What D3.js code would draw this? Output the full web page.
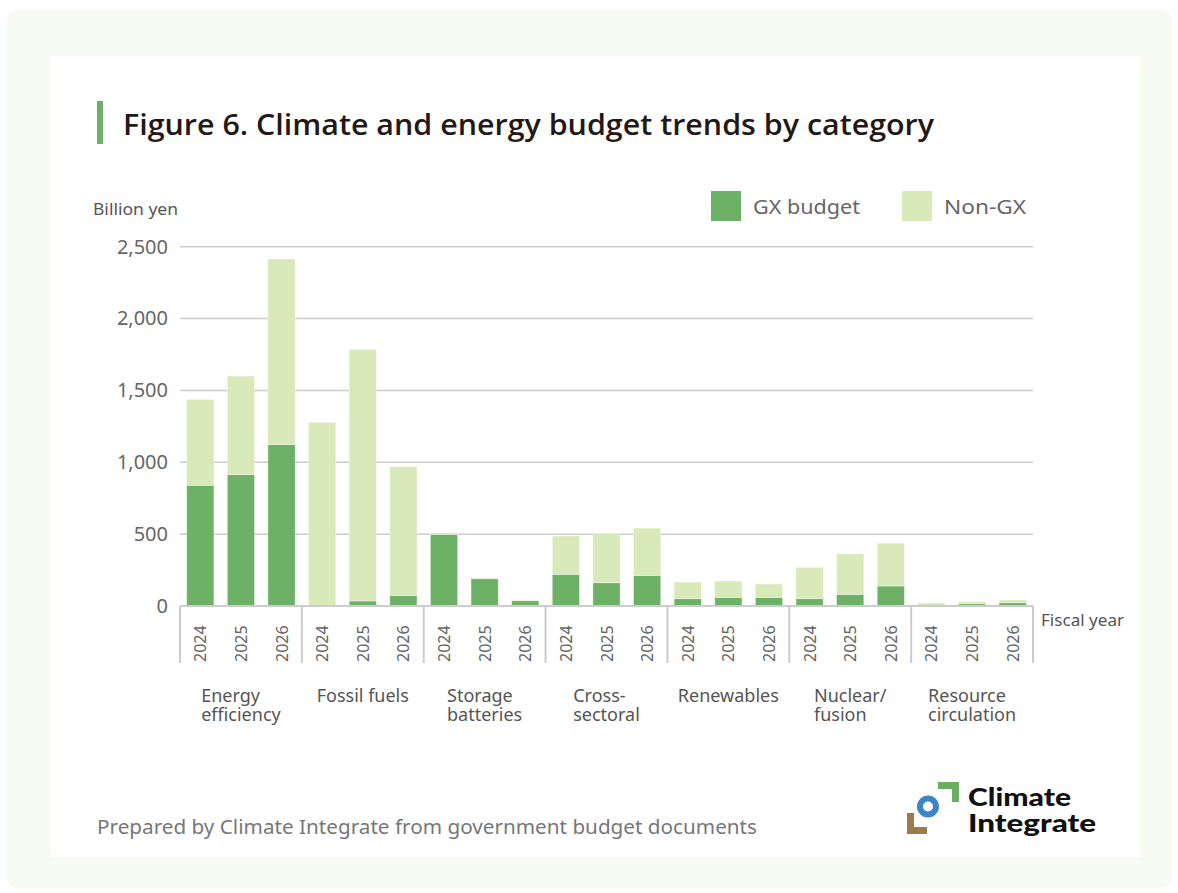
<!DOCTYPE html>
<html>
<head>
<meta charset="utf-8">
<script src="https://cdn.jsdelivr.net/npm/d3@7"></script>
<style>
  html, body { margin: 0; padding: 0; background: #fff; }
  svg { display: block; }
</style>
</head>
<body>
<svg id="chart" width="1178" height="893"></svg>
<script>
// Budget categories and fiscal years
const categories = ["Energy efficiency", "Fossil fuels", "Storage batteries", "Cross-sectoral",
                    "Renewables", "Nuclear/fusion", "Resource circulation"];
const categoryLines = [["Energy", "efficiency"], ["Fossil fuels"], ["Storage", "batteries"],
                       ["Cross-", "sectoral"], ["Renewables"], ["Nuclear/", "fusion"], ["Resource", "circulation"]];
const years = ["2024", "2025", "2026"];

// Billion yen, one row per category, one value per fiscal year
const gxBudget = [
  [840, 914, 1123],
  [0, 35, 74],
  [498, 190, 37],
  [220, 162, 213],
  [51, 60, 60],
  [51, 81, 139],
  [2, 16, 23]
];
const nonGxBudget = [
  [598, 686, 1291],
  [1278, 1750, 896],
  [12, 7, 6],
  [268, 343, 329],
  [116, 114, 93],
  [218, 282, 298],
  [19, 14, 19]
];
const yTicks = [0, 500, 1000, 1500, 2000, 2500];
const seriesNames = ["GX budget", "Non-GX"];
const seriesColors = ["#6db166", "#d8e9ba"];

const svg = d3.select("#chart");
const FONT = "'Noto Sans', 'Open Sans', sans-serif";

// Panel backgrounds
svg.append("rect").attr("x", 7).attr("y", 10).attr("width", 1165).attr("height", 878)
  .attr("rx", 10).attr("fill", "#f8fbf4");
svg.append("rect").attr("x", 51).attr("y", 56).attr("width", 1089).attr("height", 801)
  .attr("fill", "#ffffff");

// Title
svg.append("rect").attr("x", 97).attr("y", 101).attr("width", 6).attr("height", 43).attr("fill", "#6db166");
svg.append("text").attr("x", 123).attr("y", 135)
  .attr("font-family", "'Open Sans', 'Noto Sans', sans-serif").attr("font-weight", 600).attr("font-size", 28)
  .attr("fill", "#231815").attr("textLength", 811).attr("lengthAdjust", "spacingAndGlyphs")
  .text("Figure 6. Climate and energy budget trends by category");

// Scales
const plot = { left: 180, right: 1033, top: 246.7, bottom: 606 };
const y = d3.scaleLinear().domain([0, 2500]).range([plot.bottom, plot.top]);
const xGroup = d3.scaleBand().domain(categories).range([plot.left, plot.right]).padding(0);
const xYear = d3.scaleBand().domain(years).range([0, xGroup.bandwidth()])
  .paddingInner(0.33).paddingOuter(0.165);

// Gridlines
svg.append("g").selectAll("line").data(yTicks.filter(d => d > 0)).join("line")
  .attr("x1", plot.left).attr("x2", plot.right)
  .attr("y1", d => y(d)).attr("y2", d => y(d))
  .attr("stroke", "#cccccc").attr("stroke-width", 1.5);

// Y axis labels
const yAxis = svg.append("g").attr("transform", `translate(${plot.left},0)`)
  .call(d3.axisLeft(y).tickValues(yTicks).tickFormat(d3.format(",")).tickSize(0).tickPadding(12));
yAxis.select(".domain").remove();
yAxis.selectAll("text").attr("font-family", FONT).attr("font-size", 20).attr("fill", "#666");

svg.append("text").attr("x", 93).attr("y", 215)
  .attr("font-family", FONT).attr("font-size", 17).attr("fill", "#555")
  .attr("textLength", 85).attr("lengthAdjust", "spacingAndGlyphs").text("Billion yen");

// Stacked bars
const rows = [];
categories.forEach((c, i) => {
  years.forEach((yr, j) => {
    rows.push({ cat: c, year: yr, gx: gxBudget[i][j], non: nonGxBudget[i][j] });
  });
});
const stack = d3.stack().keys(["gx", "non"])(rows);
svg.append("g").selectAll("g").data(stack).join("g")
  .attr("fill", (d, i) => seriesColors[i])
  .selectAll("rect").data(d => d).join("rect")
  .attr("x", d => xGroup(d.data.cat) + xYear(d.data.year))
  .attr("width", xYear.bandwidth())
  .attr("y", d => y(d[1]))
  .attr("height", d => Math.max(0, y(d[0]) - y(d[1])))
  .attr("stroke", "rgba(255,255,255,0.45)").attr("stroke-width", 0.8);

// X axis line and group separators
svg.append("line").attr("x1", plot.left).attr("x2", plot.right)
  .attr("y1", plot.bottom).attr("y2", plot.bottom)
  .attr("stroke", "#cccccc").attr("stroke-width", 2);
const bounds = categories.map(c => xGroup(c)).concat([plot.right]);
svg.append("g").selectAll("line").data(bounds).join("line")
  .attr("x1", d => d).attr("x2", d => d)
  .attr("y1", plot.bottom).attr("y2", 663)
  .attr("stroke", "#cccccc").attr("stroke-width", 2);

// Year labels (rotated)
svg.append("g").selectAll("text").data(rows).join("text")
  .attr("transform", d => {
    const cx = xGroup(d.cat) + xYear(d.year) + xYear.bandwidth() / 2;
    return `translate(${cx + 6},${662}) rotate(-90)`;
  })
  .attr("font-family", FONT).attr("font-size", 16).attr("fill", "#666")
  .text(d => d.year);

// Category labels: each block is centred in its group, lines left-aligned within it
const catG = svg.append("g").selectAll("text").data(categories).join("text")
  .attr("y", 702)
  .attr("font-family", FONT).attr("font-size", 18).attr("fill", "#555");
catG.each(function(d, i) {
  const t = d3.select(this);
  const spans = categoryLines[i].map((line, k) =>
    t.append("tspan").attr("dy", k === 0 ? 0 : 19).text(line));
  const w = d3.max(spans, s => s.node().getComputedTextLength());
  const x0 = xGroup(d) + xGroup.bandwidth() / 2 - w / 2;
  spans.forEach(s => s.attr("x", x0));
});

svg.append("text").attr("x", 1041).attr("y", 626)
  .attr("font-family", FONT).attr("font-size", 17).attr("fill", "#555")
  .attr("textLength", 83).attr("lengthAdjust", "spacingAndGlyphs").text("Fiscal year");

// Legend
const legendX = [711, 902];
const legendW = [107, 82];
const legend = svg.append("g").selectAll("g").data(seriesNames).join("g")
  .attr("transform", (d, i) => `translate(${legendX[i]},191)`);
legend.append("rect").attr("width", 30).attr("height", 30).attr("fill", (d, i) => seriesColors[i]);
legend.append("text").attr("x", 42).attr("y", 23)
  .attr("font-family", FONT).attr("font-size", 20).attr("fill", "#666")
  .attr("textLength", (d, i) => legendW[i]).attr("lengthAdjust", "spacingAndGlyphs")
  .text(d => d);

// Source note
svg.append("text").attr("x", 97).attr("y", 834)
  .attr("font-family", FONT).attr("font-size", 19.5).attr("fill", "#777")
  .attr("textLength", 660).attr("lengthAdjust", "spacingAndGlyphs")
  .text("Prepared by Climate Integrate from government budget documents");

// Logo
const logo = svg.append("g");
logo.append("path").attr("d", "M938,782 H959 V802 H952 V789 H938 Z").attr("fill", "#6aaf5f");
logo.append("path").attr("d", "M907,813 H914 V827 H927 V834 H907 Z").attr("fill", "#9b7a4b");
logo.append("circle").attr("cx", 928).attr("cy", 806.5).attr("r", 8).attr("fill", "none")
  .attr("stroke", "#3c85c6").attr("stroke-width", 6);
logo.append("text").attr("x", 968).attr("y", 806)
  .attr("font-family", "Lato, 'Noto Sans', sans-serif").attr("font-weight", 900).attr("font-size", 25)
  .attr("fill", "#111").attr("textLength", 103).attr("lengthAdjust", "spacingAndGlyphs").text("Climate");
logo.append("text").attr("x", 968).attr("y", 832)
  .attr("font-family", "Lato, 'Noto Sans', sans-serif").attr("font-weight", 900).attr("font-size", 25)
  .attr("fill", "#111").attr("textLength", 128).attr("lengthAdjust", "spacingAndGlyphs").text("Integrate");
</script>
</body>
</html>
